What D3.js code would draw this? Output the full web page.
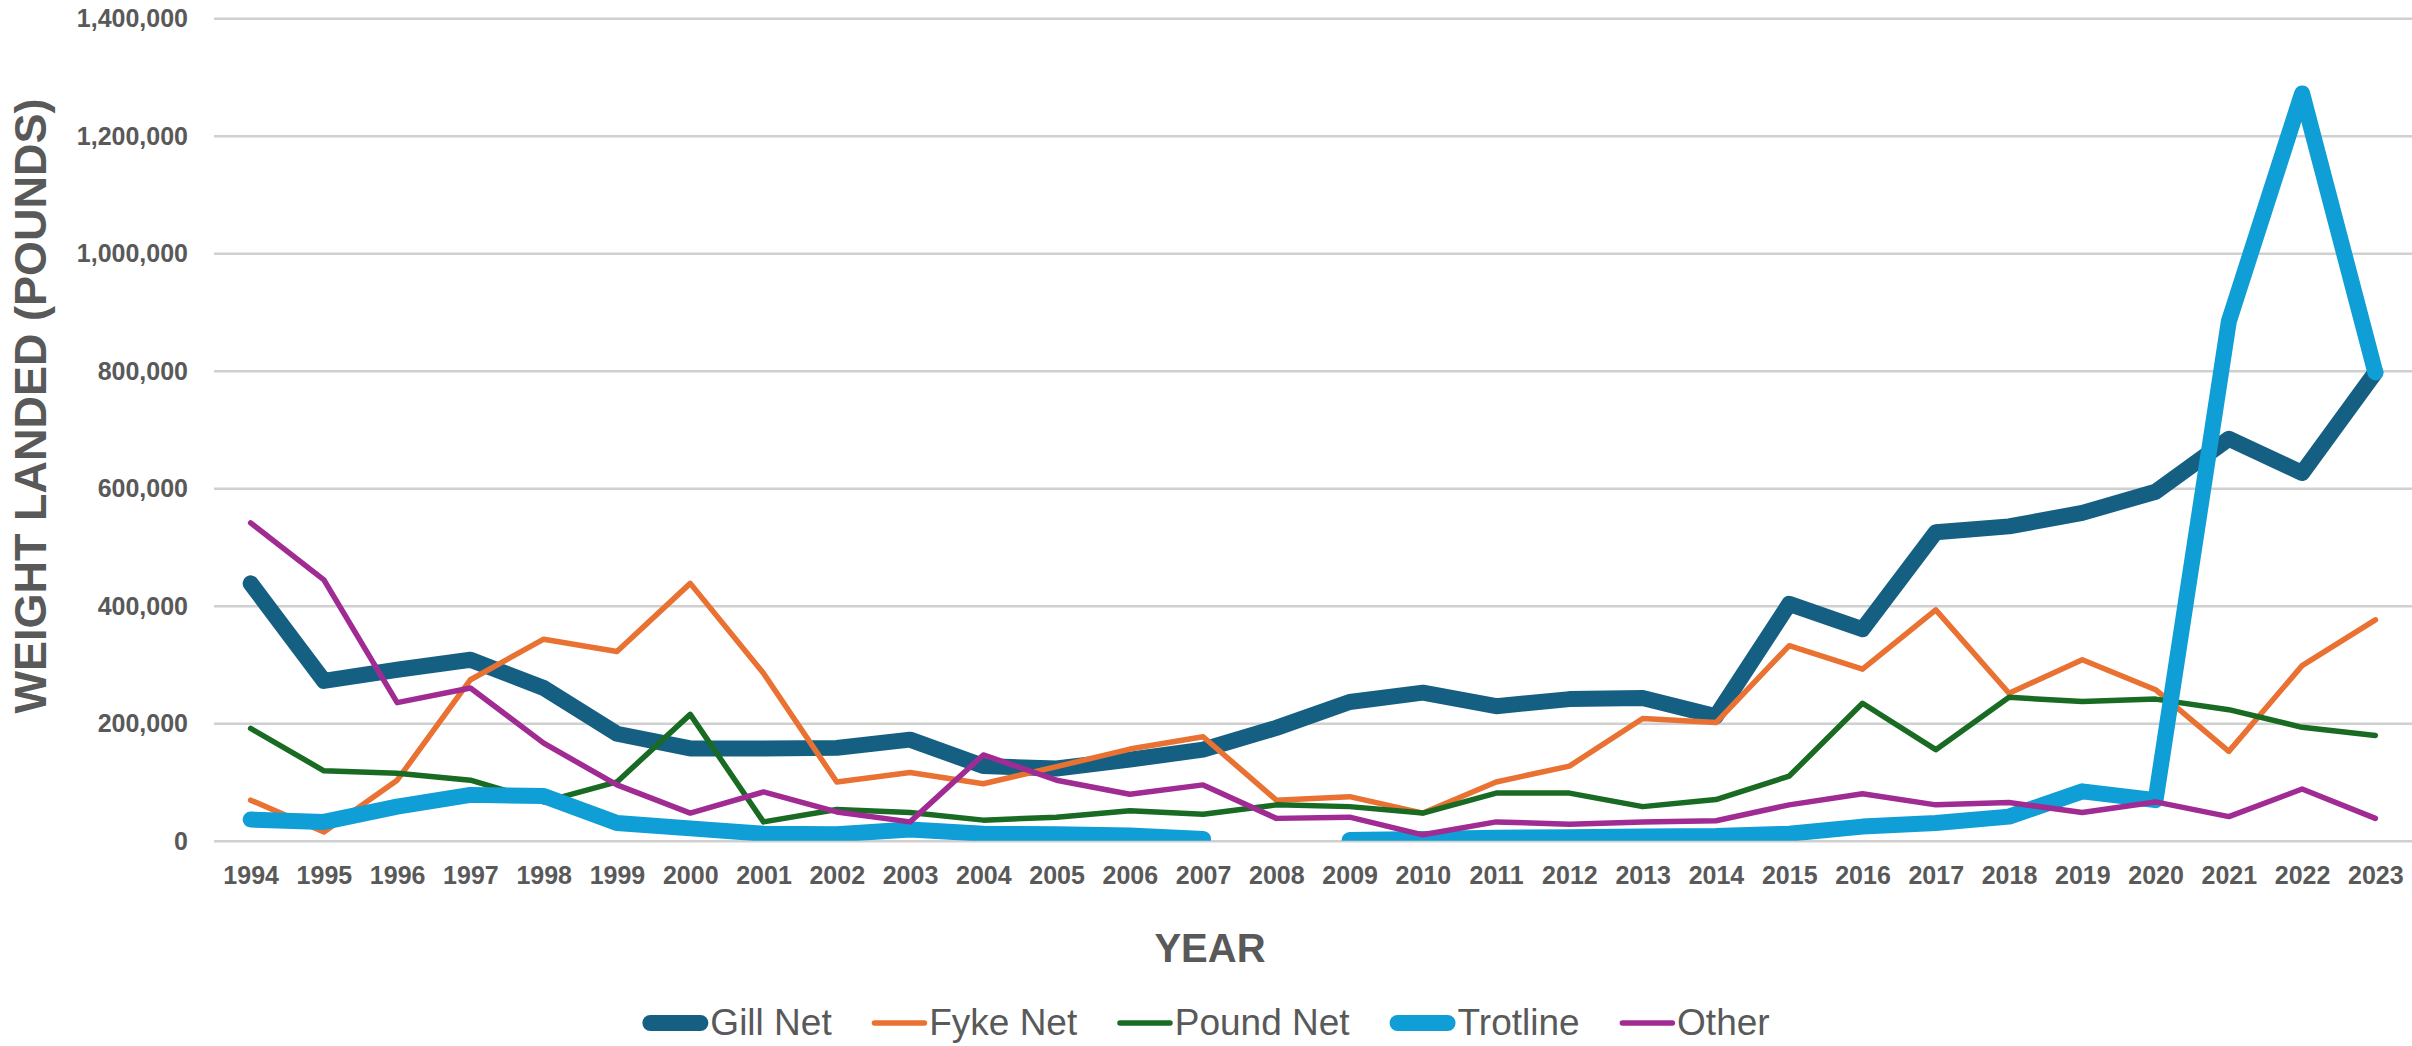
<!DOCTYPE html>
<html lang="en">
    <head>
        <meta charset="UTF-8">
        <title>Weight landed by gear type</title>
        <script src="https://d3js.org/d3.v7.min.js"></script>
    </head>

    <style>
        body {
            margin: 0;
            background: white;
        }
        text {
            font-family: "Liberation Sans", Arial, sans-serif;
            fill: #595959;
        }
        .grid line {
            stroke: #d0d0d0;
            stroke-width: 2.5px;
        }
        .tick text {
            font-size: 25px;
            font-weight: bold;
        }
        .series {
            fill: none;
            stroke-linejoin: round;
            stroke-linecap: round;
        }
    </style>
    <body>
        <svg id="chart" width="2412" height="1046"></svg>

        <script>
            // values (pounds)
            const years = ["1994","1995","1996","1997","1998","1999","2000","2001","2002","2003",
                           "2004","2005","2006","2007","2008","2009","2010","2011","2012","2013",
                           "2014","2015","2016","2017","2018","2019","2020","2021","2022","2023"];

            const gillNet = [438000, 272000, 291000, 308000, 260000, 182000, 157000, 157000, 158000, 172000,
                             127000, 123000, 138000, 155000, 192000, 236000, 252000, 229000, 241000, 243000,
                             212000, 403000, 360000, 525000, 535000, 558000, 594000, 684000, 626000, 797000];

            const fykeNet = [69000, 15000, 103000, 274000, 343000, 322000, 438000, 285000, 100000, 116000,
                             97000, 126000, 156000, 177000, 69000, 75000, 47000, 100000, 127000, 208000,
                             201000, 332000, 292000, 393000, 251000, 308000, 257000, 152000, 298000, 376000];

            const poundNet = [191000, 119000, 115000, 103000, 66000, 100000, 215000, 32000, 53000, 48000,
                              35000, 40000, 51000, 45000, 61000, 58000, 47000, 81000, 81000, 58000,
                              70000, 110000, 234000, 155000, 244000, 237000, 241000, 223000, 193000, 179000];

            const trotline = [36000, 32000, 58000, 78000, 76000, 30000, 21000, 12000, 11000, 19000,
                              12000, 11000, 9000, 3000, null, 1000, 3000, 5000, 6000, 7000,
                              8000, 12000, 24000, 30000, 41000, 84000, 69000, 884000, 1272000, 797000];

            const other = [541000, 444000, 235000, 260000, 166000, 95000, 47000, 83000, 49000, 32000,
                           146000, 103000, 79000, 95000, 38000, 40000, 10000, 32000, 28000, 32000,
                           34000, 61000, 80000, 61000, 65000, 48000, 66000, 41000, 88000, 38000];

            const yTicks = [0, 200000, 400000, 600000, 800000, 1000000, 1200000, 1400000];

            const seriesNames = ["Gill Net", "Fyke Net", "Pound Net", "Trotline", "Other"];
            const seriesValues = [gillNet, fykeNet, poundNet, trotline, other];
            const seriesColors = ["#156082", "#e97132", "#196b24", "#0f9ed5", "#a02b93"];
            const seriesWidths = [16, 5.5, 5.5, 16, 5.5];

            const svg = d3.select("#chart");
            const plotLeft = 214, plotRight = 2412, plotTop = 18.2, plotBottom = 840.7;

            const x = d3.scalePoint().domain(years).range([plotLeft, plotRight]).padding(0.5);
            const y = d3.scaleLinear().domain([0, 1400000]).range([plotBottom, plotTop]);

            // gridlines + y labels
            svg.append("g")
                .attr("class", "grid")
                .attr("transform", `translate(${plotLeft},0)`)
                .call(d3.axisLeft(y).tickValues(yTicks).tickSize(-(plotRight - plotLeft)).tickPadding(26)
                    .tickFormat(d3.format(",")))
                .call(g => g.select(".domain").remove())
                .selectAll("text").attr("dy", "0.35em");

            // x labels
            svg.append("g")
                .attr("transform", `translate(0,${plotBottom})`)
                .call(d3.axisBottom(x).tickSize(0).tickPadding(25.5))
                .call(g => g.select(".domain").remove());

            svg.append("clipPath").attr("id", "plotclip")
                .append("rect")
                .attr("x", plotLeft).attr("y", 0)
                .attr("width", plotRight - plotLeft).attr("height", plotBottom);

            const line = d3.line()
                .defined(d => d != null)
                .x((d, i) => x(years[i]))
                .y(d => y(d));

            const lines = svg.append("g").attr("clip-path", "url(#plotclip)");
            seriesValues.forEach((vals, k) => {
                lines.append("path")
                    .datum(vals)
                    .attr("class", "series")
                    .attr("stroke", seriesColors[k])
                    .attr("stroke-width", seriesWidths[k])
                    .attr("d", line);
            });

            // axis titles
            svg.append("text")
                .attr("transform", "translate(46,406) rotate(-90)")
                .attr("text-anchor", "middle")
                .style("font-size", "45px")
                .style("font-weight", "bold")
                .text("WEIGHT LANDED (POUNDS)");

            svg.append("text")
                .attr("x", 1210).attr("y", 962)
                .attr("text-anchor", "middle")
                .style("font-size", "40px")
                .style("font-weight", "bold")
                .text("YEAR");

            // legend
            const legend = svg.append("g");
            const legY = 1023;
            let cx = 0;
            seriesNames.forEach((name, k) => {
                const w = seriesWidths[k];
                const g = legend.append("g");
                const x0 = cx + w / 2;
                g.append("line")
                    .attr("x1", x0).attr("x2", x0 + 50)
                    .attr("y1", legY).attr("y2", legY)
                    .attr("stroke", seriesColors[k])
                    .attr("stroke-width", w)
                    .attr("stroke-linecap", "round");
                const t = g.append("text")
                    .attr("x", x0 + 50 + w / 2 + 2)
                    .attr("y", 1035)
                    .style("font-size", "37px")
                    .text(name);
                cx = x0 + 50 + w / 2 + 2 + t.node().getComputedTextLength() + 40;
            });
            const totalW = cx - 40;
            legend.attr("transform", `translate(${1206 - totalW / 2},0)`);
        </script>
    </body>
</html>
